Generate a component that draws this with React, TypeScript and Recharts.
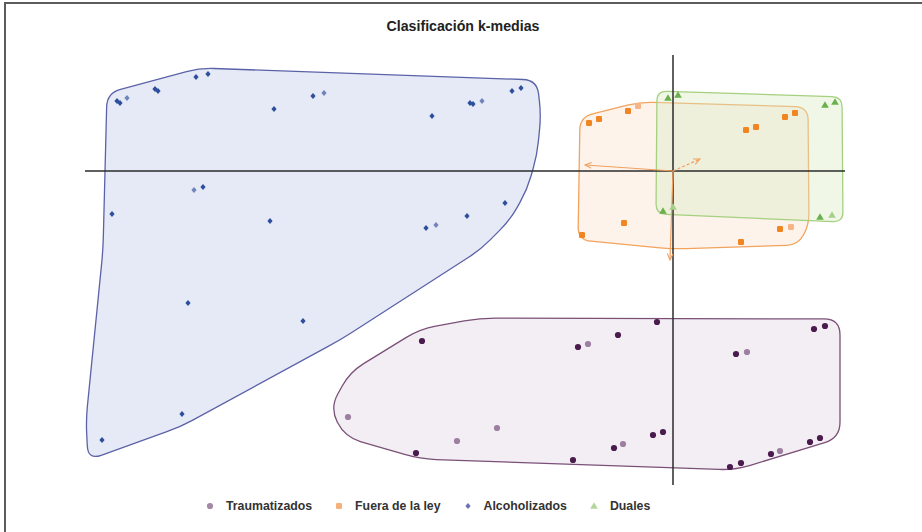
import React from 'react';
import { ScatterChart, Scatter, XAxis, YAxis, Legend } from 'recharts';

type Pt = { x: number; y: number; faded?: boolean };
type Vertex = { x: number; y: number };

// cluster members (Dim1, Dim2)
const traumatizados: Pt[] = [
  { x: -2.51, y: -1.7 }, { x: -0.95, y: -1.76 }, { x: -0.85, y: -1.73, faded: true },
  { x: -0.55, y: -1.64 }, { x: -3.25, y: -2.46, faded: true }, { x: -1.76, y: -2.57, faded: true },
  { x: -2.16, y: -2.7, faded: true }, { x: -2.57, y: -2.82 }, { x: -1.0, y: -2.89 },
  { x: -0.59, y: -2.77 }, { x: -0.5, y: -2.73, faded: true }, { x: -0.16, y: -1.51 },
  { x: 0.63, y: -1.83 }, { x: 0.74, y: -1.81, faded: true }, { x: 1.41, y: -1.58 },
  { x: 1.52, y: -1.55 }, { x: -0.2, y: -2.64 }, { x: -0.1, y: -2.61 },
  { x: 0.57, y: -2.96 }, { x: 0.68, y: -2.92 }, { x: 0.98, y: -2.83 },
  { x: 1.07, y: -2.8, faded: true }, { x: 1.37, y: -2.71 }, { x: 1.47, y: -2.67 },
];

const fueraDeLaLey: Pt[] = [
  { x: -0.84, y: 0.48 }, { x: -0.74, y: 0.52 }, { x: -0.45, y: 0.6 },
  { x: -0.35, y: 0.65, faded: true }, { x: 0.73, y: 0.41 }, { x: 0.83, y: 0.44 },
  { x: 1.12, y: 0.54 }, { x: 1.22, y: 0.58 }, { x: -0.49, y: -0.52 },
  { x: -0.91, y: -0.64 }, { x: 0.68, y: -0.71 }, { x: 1.07, y: -0.58 },
  { x: 1.18, y: -0.56, faded: true },
];

const alcoholizados: Pt[] = [
  { x: -5.56, y: 0.7 }, { x: -5.53, y: 0.68 }, { x: -5.46, y: 0.73, faded: true },
  { x: -5.18, y: 0.82 }, { x: -5.15, y: 0.8 }, { x: -4.77, y: 0.94 },
  { x: -4.65, y: 0.97 }, { x: -3.99, y: 0.62 }, { x: -3.6, y: 0.75 },
  { x: -3.49, y: 0.78, faded: true }, { x: -4.79, y: -0.19, faded: true }, { x: -4.7, y: -0.16 },
  { x: -5.61, y: -0.43 }, { x: -4.03, y: -0.5 }, { x: -1.61, y: 0.8 },
  { x: -1.52, y: 0.83 }, { x: -2.03, y: 0.68 }, { x: -2.0, y: 0.67 },
  { x: -1.91, y: 0.7, faded: true }, { x: -2.41, y: 0.55 }, { x: -1.68, y: -0.32 },
  { x: -2.06, y: -0.45 }, { x: -2.47, y: -0.57 }, { x: -2.37, y: -0.54, faded: true },
  { x: -4.85, y: -1.32 }, { x: -3.7, y: -1.5 }, { x: -4.91, y: -2.43 }, { x: -5.71, y: -2.69 },
];

const duales: Pt[] = [
  { x: -0.05, y: 0.73 }, { x: 0.05, y: 0.76 }, { x: 1.52, y: 0.66 }, { x: 1.62, y: 0.69 },
  { x: -0.1, y: -0.4 }, { x: 0.0, y: -0.36, faded: true }, { x: 1.47, y: -0.46 },
  { x: 1.59, y: -0.44, faded: true },
];

// hull outlines
const hullAlcoholizados: Vertex[] = [
  { x: -5.66, y: 0.78 }, { x: -4.73, y: 1.03 }, { x: -1.36, y: 0.91 }, { x: -1.32, y: 0.56 },
  { x: -1.36, y: 0.16 }, { x: -1.46, y: -0.19 }, { x: -1.63, y: -0.49 }, { x: -1.93, y: -0.79 },
  { x: -3.33, y: -1.69 }, { x: -4.93, y: -2.56 }, { x: -5.85, y: -2.89 }, { x: -5.87, y: -2.49 },
  { x: -5.79, y: -1.69 }, { x: -5.7, y: -0.79 },
];
const hullTraumatizados: Vertex[] = [
  { x: -1.93, y: -1.47 }, { x: 1.67, y: -1.48 }, { x: 1.67, y: -2.67 }, { x: 0.62, y: -2.99 },
  { x: -2.53, y: -2.88 }, { x: -3.28, y: -2.66 }, { x: -3.43, y: -2.37 }, { x: -3.23, y: -2.01 },
  { x: -2.53, y: -1.58 },
];
const hullFuera: Vertex[] = [
  { x: -0.93, y: 0.54 }, { x: -0.33, y: 0.69 }, { x: 1.35, y: 0.64 }, { x: 1.36, y: -0.54 },
  { x: 1.25, y: -0.74 }, { x: 0.0, y: -0.78 }, { x: -0.95, y: -0.69 },
];
const hullDuales: Vertex[] = [
  { x: -0.16, y: 0.8 }, { x: 1.69, y: 0.74 }, { x: 1.7, y: -0.51 }, { x: -0.17, y: -0.43 },
];

// axes through the origin
const axisDim1: Vertex[] = [{ x: -5.88, y: 0 }, { x: 1.72, y: 0 }];
const axisDim2: Vertex[] = [{ x: 0, y: 1.16 }, { x: 0, y: -3.14 }];

// variable arrows from the origin
const arrowA: Vertex[] = [{ x: 0, y: 0 }, { x: -0.88, y: 0.06 }];
const arrowB: Vertex[] = [{ x: 0, y: 0 }, { x: 0.27, y: 0.12 }];
const arrowC: Vertex[] = [{ x: 0, y: 0 }, { x: -0.03, y: -0.89 }];

const LEGEND_ORDER = ['Traumatizados', 'Fuera de la ley', 'Alcoholizados', 'Duales'];

const X_DOMAIN = [-6.73, 2.49];
const Y_DOMAIN = [-3.61, 1.71];
const FONT = '"Liberation Sans", Arial, Helvetica, sans-serif';

const roundedPath = (pts: { x: number; y: number }[], radius: number) => {
  const n = pts.length;
  let d = '';
  for (let i = 0; i < n; i++) {
    const p = pts[i];
    const a = pts[(i + n - 1) % n];
    const b = pts[(i + 1) % n];
    const da = Math.hypot(a.x - p.x, a.y - p.y);
    const db = Math.hypot(b.x - p.x, b.y - p.y);
    const r = Math.min(radius, da / 2, db / 2);
    const sx = p.x + ((a.x - p.x) * r) / da;
    const sy = p.y + ((a.y - p.y) * r) / da;
    const ex = p.x + ((b.x - p.x) * r) / db;
    const ey = p.y + ((b.y - p.y) * r) / db;
    d += `${i === 0 ? 'M' : 'L'}${sx},${sy}Q${p.x},${p.y} ${ex},${ey}`;
  }
  return d + 'Z';
};

const hullLine = (stroke: string, fill: string, opacity: number, radius: number) => (props: any) => (
  <path
    d={roundedPath(props.points, radius)}
    fill={fill}
    fillOpacity={opacity}
    stroke={stroke}
    strokeWidth={1.3}
  />
);

const segmentLine = (stroke: string, width: number, dash?: string, arrow?: boolean) => (props: any) => {
  const [p, q] = props.points;
  return (
    <path
      d={`M${p.x},${p.y}L${q.x},${q.y}`}
      stroke={stroke}
      strokeWidth={width}
      strokeDasharray={dash}
      fill="none"
      markerEnd={arrow ? 'url(#arrowHead)' : undefined}
    />
  );
};

const Marker = ({ kind, cx, cy, fill }: { kind: string; cx: number; cy: number; fill: string }) => {
  if (kind === 'circle') return <circle cx={cx} cy={cy} r={3.1} fill={fill} />;
  if (kind === 'square') return <rect x={cx - 3} y={cy - 3} width={6} height={6} rx={1.2} fill={fill} />;
  if (kind === 'diamond')
    return <path d={`M${cx},${cy - 3}L${cx + 2.6},${cy}L${cx},${cy + 3}L${cx - 2.6},${cy}Z`} fill={fill} />;
  return <path d={`M${cx},${cy - 3.8}L${cx + 3.8},${cy + 2.8}L${cx - 3.8},${cy + 2.8}Z`} fill={fill} />;
};

const pointShape = (kind: string, color: string, faded: string) => (props: any) => (
  <Marker kind={kind} cx={props.cx} cy={props.cy} fill={props.payload.faded ? faded : color} />
);

const hidden = () => <g />;

const LEGEND_ICONS: Record<string, string> = {
  circle: '#a488a6',
  square: '#f6b07a',
  diamond: '#6a72b4',
  triangle: '#b3d79a',
};

const renderLegend = (props: any) => {
  const items = (props.payload || [])
    .filter((e: any) => LEGEND_ORDER.includes(e.value))
    .sort((a: any, b: any) => LEGEND_ORDER.indexOf(a.value) - LEGEND_ORDER.indexOf(b.value));
  return (
    <div style={{ display: 'flex', alignItems: 'center', fontFamily: FONT, fontWeight: 700, fontSize: 12.3, color: '#333' }}>
      {items.map((entry: any) => (
        <div key={entry.value} style={{ display: 'flex', alignItems: 'center', marginRight: 23 }}>
          <svg width={8} height={8}>
            <Marker kind={entry.type} cx={4} cy={4} fill={LEGEND_ICONS[entry.type]} />
          </svg>
          <span style={{ marginLeft: 12 }}>{entry.value}</span>
        </div>
      ))}
    </div>
  );
};

const App = () => {
  return (
    <div style={{ position: 'absolute', left: 0, top: 0, width: 922, height: 532, background: '#fff' }}>
      <div
        style={{
          position: 'absolute',
          left: 4,
          top: 2,
          right: 0,
          bottom: 0,
          borderTop: '2px solid #5c5c5c',
          borderLeft: '2px solid #5c5c5c',
        }}
      />
      <div
        style={{
          position: 'absolute',
          top: 18,
          width: 922,
          paddingLeft: 2,
          textAlign: 'center',
          fontFamily: FONT,
          fontWeight: 700,
          fontSize: 14.2,
          color: '#222',
        }}
      >
        Clasificación k-medias
      </div>
      <ScatterChart width={922} height={532} margin={{ top: 0, right: 0, bottom: 0, left: 0 }}>
        <defs>
          <marker id="arrowHead" viewBox="0 0 10 10" refX="9" refY="5" markerWidth="6" markerHeight="6" orient="auto">
            <path d="M0,1L9,5L0,9" fill="none" stroke="#f0a060" strokeWidth={1.5} />
          </marker>
        </defs>
        <XAxis type="number" dataKey="x" domain={X_DOMAIN} allowDataOverflow hide />
        <YAxis type="number" dataKey="y" domain={Y_DOMAIN} allowDataOverflow hide />

        <Scatter data={hullAlcoholizados} legendType="none" isAnimationActive={false} shape={hidden}
          line={hullLine('#5b62a8', '#d6dcf0', 0.6, 14)} lineType="joint" />
        <Scatter data={hullTraumatizados} legendType="none" isAnimationActive={false} shape={hidden}
          line={hullLine('#7a5078', '#e4dae5', 0.45, 16)} lineType="joint" />
        <Scatter data={hullFuera} legendType="none" isAnimationActive={false} shape={hidden}
          line={hullLine('#f2a35e', '#fbe2cc', 0.4, 13)} lineType="joint" />
        <Scatter data={hullDuales} legendType="none" isAnimationActive={false} shape={hidden}
          line={hullLine('#a5d07f', '#d9ecc4', 0.4, 10)} lineType="joint" />

        <Scatter data={axisDim1} legendType="none" isAnimationActive={false} shape={hidden}
          line={segmentLine('#2b2b2b', 1.5)} lineType="joint" />
        <Scatter data={axisDim2} legendType="none" isAnimationActive={false} shape={hidden}
          line={segmentLine('#2b2b2b', 1.5)} lineType="joint" />
        <Scatter data={arrowA} legendType="none" isAnimationActive={false} shape={hidden}
          line={segmentLine('#f0a060', 1.2, undefined, true)} lineType="joint" />
        <Scatter data={arrowB} legendType="none" isAnimationActive={false} shape={hidden}
          line={segmentLine('#f0a060', 1.2, '3 2', true)} lineType="joint" />
        <Scatter data={arrowC} legendType="none" isAnimationActive={false} shape={hidden}
          line={segmentLine('#f0a060', 1.2, undefined, true)} lineType="joint" />

        <Scatter name="Traumatizados" data={traumatizados} fill="#4a1c4d" legendType="circle"
          isAnimationActive={false} shape={pointShape('circle', '#4a1c4d', '#9d7f9f')} />
        <Scatter name="Fuera de la ley" data={fueraDeLaLey} fill="#f08522" legendType="square"
          isAnimationActive={false} shape={pointShape('square', '#f08522', '#f5b587')} />
        <Scatter name="Alcoholizados" data={alcoholizados} fill="#2d4e9c" legendType="diamond"
          isAnimationActive={false} shape={pointShape('diamond', '#2d4e9c', '#7283bb')} />
        <Scatter name="Duales" data={duales} fill="#6ab04c" legendType="triangle"
          isAnimationActive={false} shape={pointShape('triangle', '#6ab04c', '#a8d08d')} />

        <Legend content={renderLegend} verticalAlign="middle" wrapperStyle={{ left: 206, top: 499, width: 'auto' }} />
      </ScatterChart>
    </div>
  );
};

export default App;
